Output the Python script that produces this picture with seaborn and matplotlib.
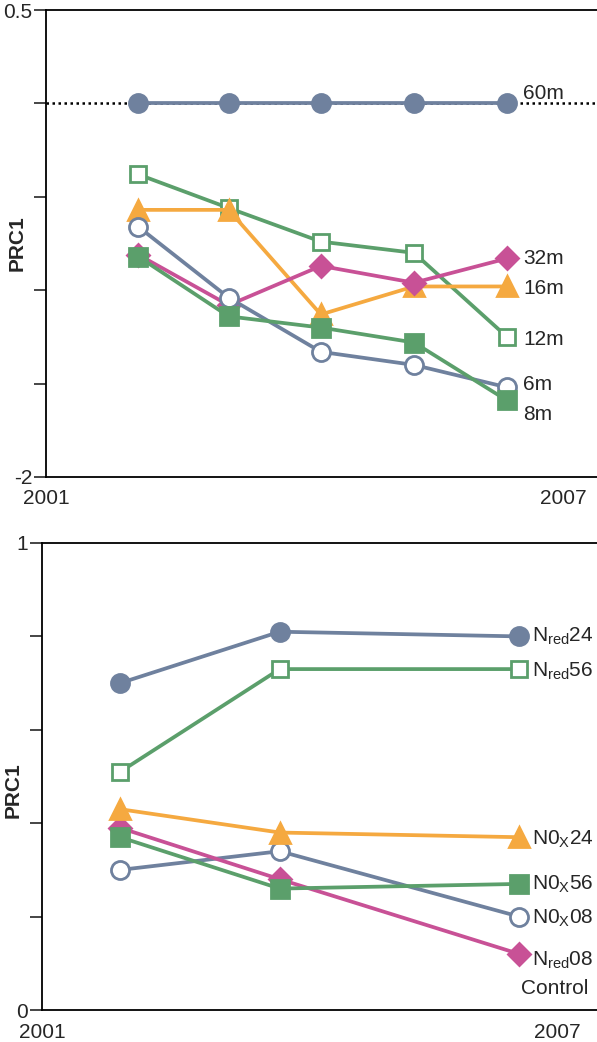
import pandas as pd
import seaborn as sns
import matplotlib.pyplot as plt

# top panel: depth series
years_top = [2002.07, 2003.12, 2004.19, 2005.27, 2006.35]
m60 = [0, 0, 0, 0, 0]
m12 = [-0.38, -0.56, -0.74, -0.80, -1.25]
m16 = [-0.57, -0.57, -1.13, -0.98, -0.98]
m32 = [-0.81, -1.08, -0.87, -0.96, -0.83]
m6 = [-0.66, -1.04, -1.33, -1.40, -1.52]
m8 = [-0.82, -1.14, -1.20, -1.28, -1.59]

# bottom panel: treatment series
years_bot = [2001.91, 2003.77, 2006.56]
nred24 = [0.70, 0.81, 0.80]
nred56 = [0.51, 0.73, 0.73]
n0x08 = [0.30, 0.34, 0.20]
nred08 = [0.39, 0.28, 0.12]
n0x56 = [0.37, 0.26, 0.27]
n0x24 = [0.43, 0.38, 0.37]

blue = '#6f819e'
green = '#5b9f6b'
orange = '#f5a940'
pink = '#c85196'

sns.set_style('white')
plt.rcParams['font.family'] = ['Liberation Sans', 'DejaVu Sans']
plt.rcParams['mathtext.default'] = 'regular'

fig = plt.figure(figsize=(5.97, 10.42), dpi=100)
ax1 = fig.add_axes([46 / 597, 1 - 477 / 1042, 1 - 46 / 597, 467 / 1042])
ax2 = fig.add_axes([42 / 597, 1 - 1010 / 1042, 1 - 42 / 597, 467 / 1042])


def draw(ax, x, y, color, marker, size, filled, label, dx, dy):
    sns.lineplot(x=x, y=y, ax=ax, color=color, lw=2.7, marker=marker,
                 markersize=size, markerfacecolor=color if filled else 'white',
                 markeredgecolor=color, markeredgewidth=2.0, clip_on=False)
    ax.annotate(label, (x[-1], y[-1]), xytext=(dx, dy), textcoords='offset pixels',
                fontsize=15, va='center', ha='left')


ax1.axhline(0, color='black', ls=(0, (1, 1.4)), lw=1.8, zorder=0)
top_series = [
    (m60, blue, 'o', 13, True, '60m', 16, 10),
    (m12, green, 's', 12, False, '12m', 16, -3),
    (m16, orange, '^', 14, True, '16m', 16, -2),
    (m32, pink, 'D', 11, True, '32m', 16, 0),
    (m6, blue, 'o', 13, False, '6m', 16, 3),
    (m8, green, 's', 12.5, True, '8m', 16, -14),
]
for vals, c, mk, sz, fill, lab, dx, dy in top_series:
    draw(ax1, years_top, vals, c, mk, sz, fill, lab, dx, dy)

bot_series = [
    (nred24, blue, 'o', 13, True, r'N$_{red}$24', 13, 0),
    (nred56, green, 's', 12, False, r'N$_{red}$56', 13, -2),
    (n0x08, blue, 'o', 13, False, r'N0$_{X}$08', 13, -2),
    (nred08, pink, 'D', 11, True, r'N$_{red}$08', 13, -6),
    (n0x56, green, 's', 12.5, True, r'N0$_{X}$56', 13, 0),
    (n0x24, orange, '^', 14, True, r'N0$_{X}$24', 13, -2),
]
for vals, c, mk, sz, fill, lab, dx, dy in bot_series:
    draw(ax2, years_bot, vals, c, mk, sz, fill, lab, dx, dy)

ax2.text(0.985, 0.045, 'Control', transform=ax2.transAxes, ha='right',
         va='center', fontsize=15)

ax1.set_xlim(2001, 2001 + 551 / 86.17)
ax1.set_ylim(-2, 0.5)
ax1.set_yticks([-2, -1.5, -1, -0.5, 0, 0.5])
ax1.set_yticklabels(['-2', '', '', '', '', '0.5'])

ax2.set_xlim(2001, 2001 + 555 / 85.83)
ax2.set_ylim(0, 1)
ax2.set_yticks([0, 0.2, 0.4, 0.6, 0.8, 1])
ax2.set_yticklabels(['0', '', '', '', '', '1'])

for ax, ly in ((ax1, 0.5), (ax2, 0.47)):
    ax.set_xticks([2001, 2007])
    ax.set_xticklabels(['2001', '2007'])
    ax.tick_params(axis='x', length=0, pad=9, labelsize=15)
    ax.tick_params(axis='y', length=9, width=1.2, pad=1, labelsize=15,
                   left=True, direction='out')
    ax.spines['right'].set_visible(False)
    for s in ('left', 'top', 'bottom'):
        ax.spines[s].set_color('black')
        ax.spines[s].set_linewidth(1.3)
    ax.set_xlabel('')
    ax.set_ylabel('PRC1', fontsize=15, fontweight='bold')
    ax.yaxis.set_label_coords(-0.035, ly)
    ax.grid(False)

fig.savefig('out.png', dpi=100)
